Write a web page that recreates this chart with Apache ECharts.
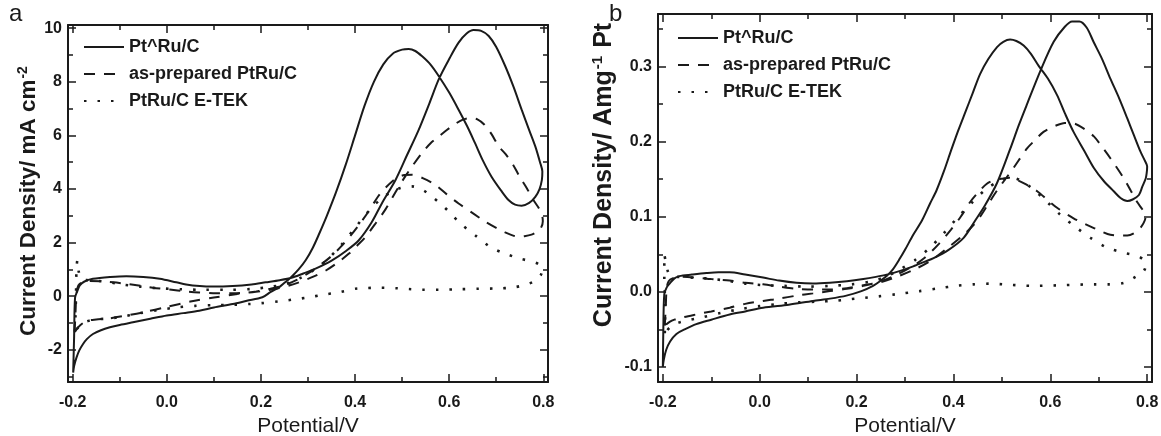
<!DOCTYPE html>
<html><head><meta charset="utf-8">
<script src="https://cdn.jsdelivr.net/npm/echarts@6/dist/echarts.min.js"></script>
<style>html,body{margin:0;padding:0;background:#fff}#c{width:1161px;height:436px}</style>
</head><body><div id="c"></div>
<script>
const seriesNames = ['Pt^Ru/C', 'as-prepared PtRu/C', 'PtRu/C E-TEK'];
const xMajorTicks = [-0.2, 0, 0.2, 0.4, 0.6, 0.8];
const xMinorTicks = [-0.1, 0.1, 0.3, 0.5, 0.7];
const yMajorTicksA = [-2, 0, 2, 4, 6, 8, 10];
const yMinorTicksA = [-3, -1, 1, 3, 5, 7, 9];
const yMajorTicksB = [-0.1, 0, 0.1, 0.2, 0.3];
const yMinorTicksB = [-0.05, 0.05, 0.15, 0.25, 0.35];

// Panel a: current density (mA cm-2) vs potential (V), closed CV loops
const solidA = [[-0.199,-2.85],[-0.197,-1.5],[-0.195,-0.05],[-0.19,0.2],[-0.185,0.4],[-0.175,0.55],[-0.157,0.65],[-0.12,0.72],[-0.086,0.75],[-0.05,0.72],[-0.015,0.65],[0.02,0.52],[0.041,0.44],[0.07,0.38],[0.097,0.36],[0.14,0.38],[0.18,0.44],[0.21,0.52],[0.24,0.6],[0.265,0.69],[0.29,0.85],[0.316,1.03],[0.351,1.34],[0.38,1.68],[0.408,2.09],[0.435,2.75],[0.458,3.5],[0.486,4.34],[0.51,5.25],[0.535,6.2],[0.558,7.2],[0.578,8.1],[0.6,8.85],[0.62,9.46],[0.637,9.8],[0.652,9.93],[0.668,9.9],[0.684,9.71],[0.7,9.3],[0.719,8.59],[0.737,7.8],[0.754,6.96],[0.77,6.2],[0.783,5.59],[0.793,5.0],[0.798,4.65],[0.797,4.34],[0.792,4.0],[0.783,3.71],[0.77,3.48],[0.754,3.38],[0.74,3.42],[0.726,3.59],[0.71,3.95],[0.69,4.46],[0.672,5.05],[0.655,5.71],[0.638,6.35],[0.62,6.96],[0.6,7.6],[0.578,8.21],[0.56,8.65],[0.542,8.96],[0.528,9.15],[0.514,9.22],[0.5,9.2],[0.48,9.05],[0.46,8.65],[0.44,8.0],[0.42,7.1],[0.4,6.0],[0.38,4.9],[0.36,3.9],[0.34,3.0],[0.324,2.34],[0.31,1.8],[0.295,1.34],[0.28,1.0],[0.264,0.71],[0.25,0.5],[0.239,0.34],[0.22,0.15],[0.203,-0.04],[0.17,-0.17],[0.14,-0.29],[0.1,-0.42],[0.069,-0.54],[0.035,-0.63],[0.0,-0.72],[-0.035,-0.84],[-0.072,-0.97],[-0.1,-1.07],[-0.121,-1.16],[-0.14,-1.27],[-0.157,-1.41],[-0.17,-1.6],[-0.178,-1.78],[-0.186,-2.02],[-0.192,-2.29],[-0.197,-2.6],[-0.199,-2.85]];
const dashedA = [[-0.196,-1.35],[-0.194,-0.6],[-0.192,0.1],[-0.188,0.4],[-0.18,0.52],[-0.164,0.57],[-0.14,0.56],[-0.114,0.52],[-0.09,0.47],[-0.06,0.4],[-0.03,0.32],[0.006,0.25],[0.04,0.18],[0.069,0.14],[0.105,0.11],[0.14,0.11],[0.182,0.15],[0.21,0.21],[0.232,0.28],[0.26,0.4],[0.281,0.52],[0.31,0.72],[0.338,0.96],[0.365,1.28],[0.387,1.59],[0.405,1.9],[0.422,2.21],[0.445,2.75],[0.465,3.25],[0.48,3.7],[0.493,4.09],[0.507,4.48],[0.521,4.84],[0.542,5.34],[0.56,5.7],[0.578,5.96],[0.595,6.2],[0.612,6.42],[0.628,6.58],[0.645,6.65],[0.66,6.6],[0.675,6.4],[0.69,6.05],[0.705,5.6],[0.72,5.3],[0.736,4.9],[0.75,4.45],[0.765,4.03],[0.779,3.59],[0.79,3.3],[0.797,3.05],[0.799,2.8],[0.795,2.55],[0.786,2.4],[0.775,2.3],[0.76,2.24],[0.747,2.22],[0.733,2.28],[0.719,2.38],[0.7,2.55],[0.677,2.78],[0.65,3.1],[0.62,3.46],[0.595,3.8],[0.571,4.15],[0.545,4.4],[0.521,4.53],[0.505,4.52],[0.493,4.45],[0.48,4.3],[0.465,4.05],[0.45,3.75],[0.43,3.2],[0.41,2.7],[0.39,2.25],[0.37,1.85],[0.35,1.5],[0.325,1.15],[0.3,0.85],[0.275,0.6],[0.25,0.42],[0.22,0.28],[0.19,0.18],[0.15,0.08],[0.1,-0.05],[0.05,-0.2],[0.0,-0.4],[-0.05,-0.6],[-0.086,-0.72],[-0.12,-0.82],[-0.15,-0.87],[-0.165,-0.9],[-0.178,-1.0],[-0.188,-1.15],[-0.196,-1.35]];
const dottedA = [[-0.195,-1.3],[-0.193,0.0],[-0.192,1.0],[-0.19,1.34],[-0.187,0.9],[-0.182,0.65],[-0.17,0.6],[-0.15,0.58],[-0.12,0.52],[-0.1,0.45],[-0.058,0.36],[-0.02,0.3],[0.03,0.26],[0.08,0.24],[0.13,0.24],[0.18,0.27],[0.22,0.35],[0.25,0.45],[0.28,0.65],[0.31,0.95],[0.34,1.35],[0.37,1.9],[0.4,2.55],[0.43,3.2],[0.46,3.7],[0.49,4.0],[0.52,4.1],[0.545,3.95],[0.564,3.71],[0.585,3.4],[0.6,3.15],[0.624,2.71],[0.655,2.28],[0.687,1.84],[0.719,1.59],[0.751,1.4],[0.775,1.3],[0.79,1.2],[0.797,1.03],[0.795,0.8],[0.785,0.6],[0.768,0.46],[0.737,0.33],[0.7,0.29],[0.662,0.28],[0.62,0.26],[0.578,0.24],[0.542,0.24],[0.514,0.27],[0.486,0.3],[0.45,0.32],[0.42,0.3],[0.401,0.28],[0.366,0.15],[0.33,0.05],[0.302,-0.04],[0.27,-0.12],[0.239,-0.19],[0.2,-0.26],[0.175,-0.29],[0.14,-0.32],[0.1,-0.33],[0.06,-0.36],[0.02,-0.42],[-0.02,-0.52],[-0.06,-0.64],[-0.1,-0.78],[-0.13,-0.84],[-0.155,-0.87],[-0.172,-0.95],[-0.185,-1.1],[-0.195,-1.3]];

// Panel b: mass activity (A mg-1 Pt) vs potential (V)
const solidB = [[-0.2,-0.1],[-0.199,-0.05],[-0.197,-0.003],[-0.192,0.006],[-0.186,0.011],[-0.176,0.018],[-0.166,0.021],[-0.14,0.023],[-0.11,0.025],[-0.085,0.026],[-0.062,0.026],[-0.03,0.023],[0.007,0.019],[0.04,0.015],[0.076,0.012],[0.11,0.011],[0.145,0.012],[0.18,0.014],[0.214,0.017],[0.24,0.02],[0.262,0.023],[0.29,0.028],[0.317,0.034],[0.34,0.04],[0.359,0.045],[0.39,0.056],[0.421,0.072],[0.445,0.095],[0.465,0.115],[0.49,0.145],[0.517,0.19],[0.535,0.222],[0.552,0.25],[0.58,0.295],[0.607,0.333],[0.63,0.353],[0.645,0.36],[0.66,0.36],[0.675,0.352],[0.69,0.332],[0.707,0.31],[0.724,0.284],[0.742,0.258],[0.759,0.231],[0.773,0.208],[0.786,0.187],[0.795,0.175],[0.8,0.167],[0.799,0.158],[0.797,0.151],[0.79,0.14],[0.783,0.129],[0.77,0.123],[0.759,0.121],[0.745,0.125],[0.731,0.134],[0.71,0.148],[0.69,0.165],[0.67,0.188],[0.648,0.213],[0.63,0.238],[0.614,0.262],[0.595,0.284],[0.576,0.301],[0.56,0.317],[0.545,0.328],[0.53,0.334],[0.517,0.336],[0.503,0.333],[0.49,0.326],[0.472,0.31],[0.455,0.29],[0.44,0.265],[0.425,0.24],[0.41,0.215],[0.395,0.188],[0.38,0.16],[0.365,0.135],[0.352,0.118],[0.335,0.095],[0.317,0.076],[0.3,0.056],[0.29,0.045],[0.275,0.03],[0.262,0.021],[0.25,0.015],[0.234,0.008],[0.21,0.001],[0.179,-0.005],[0.145,-0.009],[0.11,-0.012],[0.06,-0.017],[0.007,-0.021],[-0.03,-0.026],[-0.062,-0.03],[-0.1,-0.037],[-0.131,-0.043],[-0.155,-0.05],[-0.172,-0.056],[-0.185,-0.066],[-0.193,-0.077],[-0.198,-0.09],[-0.2,-0.1]];
const dashedB = [[-0.196,-0.045],[-0.194,-0.02],[-0.192,0.005],[-0.188,0.014],[-0.18,0.018],[-0.16,0.02],[-0.131,0.019],[-0.1,0.017],[-0.062,0.015],[-0.03,0.012],[0.007,0.01],[0.04,0.007],[0.076,0.004],[0.11,0.003],[0.145,0.003],[0.18,0.005],[0.214,0.009],[0.25,0.013],[0.283,0.02],[0.32,0.03],[0.352,0.041],[0.385,0.057],[0.421,0.076],[0.44,0.088],[0.455,0.1],[0.47,0.115],[0.49,0.135],[0.507,0.15],[0.524,0.165],[0.552,0.191],[0.57,0.203],[0.586,0.213],[0.61,0.221],[0.63,0.225],[0.65,0.224],[0.67,0.217],[0.69,0.207],[0.707,0.193],[0.724,0.178],[0.752,0.151],[0.766,0.135],[0.779,0.12],[0.79,0.11],[0.797,0.103],[0.795,0.095],[0.788,0.087],[0.775,0.079],[0.759,0.075],[0.742,0.075],[0.724,0.076],[0.707,0.08],[0.69,0.085],[0.67,0.091],[0.648,0.098],[0.614,0.112],[0.595,0.122],[0.573,0.134],[0.55,0.143],[0.531,0.149],[0.515,0.152],[0.503,0.151],[0.485,0.149],[0.469,0.144],[0.452,0.133],[0.435,0.12],[0.415,0.1],[0.395,0.083],[0.37,0.064],[0.34,0.045],[0.31,0.032],[0.28,0.022],[0.25,0.014],[0.214,0.008],[0.18,0.004],[0.145,0.001],[0.11,-0.002],[0.076,-0.005],[0.04,-0.009],[0.007,-0.012],[-0.03,-0.016],[-0.062,-0.021],[-0.1,-0.026],[-0.131,-0.03],[-0.16,-0.034],[-0.176,-0.037],[-0.186,-0.04],[-0.196,-0.045]];
const dottedB = [[-0.196,-0.055],[-0.195,-0.02],[-0.197,0.02],[-0.197,0.05],[-0.194,0.04],[-0.19,0.028],[-0.185,0.022],[-0.17,0.02],[-0.14,0.019],[-0.11,0.018],[-0.07,0.015],[-0.03,0.011],[0.007,0.009],[0.05,0.008],[0.1,0.007],[0.145,0.008],[0.19,0.01],[0.23,0.014],[0.26,0.02],[0.29,0.03],[0.32,0.042],[0.35,0.058],[0.38,0.078],[0.41,0.1],[0.44,0.12],[0.47,0.138],[0.5,0.149],[0.52,0.152],[0.54,0.148],[0.562,0.138],[0.593,0.12],[0.62,0.103],[0.655,0.085],[0.683,0.072],[0.717,0.059],[0.752,0.052],[0.779,0.048],[0.792,0.043],[0.797,0.037],[0.795,0.03],[0.788,0.024],[0.779,0.021],[0.752,0.012],[0.72,0.01],[0.69,0.01],[0.628,0.009],[0.566,0.008],[0.503,0.01],[0.476,0.011],[0.441,0.01],[0.405,0.008],[0.372,0.005],[0.33,0.001],[0.283,-0.003],[0.245,-0.006],[0.214,-0.008],[0.183,-0.01],[0.152,-0.012],[0.12,-0.013],[0.08,-0.014],[0.04,-0.016],[0.0,-0.019],[-0.04,-0.023],[-0.08,-0.028],[-0.12,-0.034],[-0.15,-0.038],[-0.172,-0.042],[-0.185,-0.047],[-0.196,-0.055]];

const INK = '#1a1a1a';
const FONT = 'Liberation Sans, Arial, sans-serif';
const X_RANGE = [-0.21, 0.81];
const Y_RANGE_A = [-3.2, 10.12];
const Y_RANGE_B = [-0.12, 0.37];

function xAxis(grid, pos, ticks, len, withLabel, withLine, extra) {
  return Object.assign({
    type: 'value', gridIndex: grid, position: pos, min: X_RANGE[0], max: X_RANGE[1],
    splitLine: { show: false },
    axisLine: { show: withLine, onZero: false, lineStyle: { color: INK, width: 2 } },
    axisTick: { show: true, inside: true, length: len, customValues: ticks, lineStyle: { color: INK, width: 1.5 } },
    axisLabel: withLabel ? { show: true, customValues: ticks, margin: 13, color: INK, fontSize: 16, fontWeight: 'bold', fontFamily: FONT,
      formatter: v => v.toFixed(1) } : { show: false }
  }, extra || {});
}
function yAxis(grid, pos, range, ticks, len, withLabel, withLine, fmt, extra) {
  return Object.assign({
    type: 'value', gridIndex: grid, position: pos, min: range[0], max: range[1],
    splitLine: { show: false },
    axisLine: { show: withLine, onZero: false, lineStyle: { color: INK, width: 2 } },
    axisTick: { show: true, inside: true, length: len, customValues: ticks, lineStyle: { color: INK, width: 1.5 } },
    axisLabel: withLabel ? { show: true, customValues: ticks, margin: 6, color: INK, fontSize: 16, fontWeight: 'bold', fontFamily: FONT,
      formatter: fmt } : { show: false }
  }, extra || {});
}
const xName = {
  name: 'Potential/V', nameLocation: 'middle', nameGap: 32,
  nameTextStyle: { fontSize: 21, color: INK, fontFamily: FONT }
};
function yName(main, sup, tail, size, gap, shift) {
  return {
    name: '{m|' + main + '}{s|' + sup + '}' + (tail ? '{m|' + tail + '}' : ''),
    nameLocation: 'middle', nameGap: gap,
    nameTextStyle: { padding: [0, 0, 0, shift], rich: {
      m: { fontSize: size, fontWeight: 'bold', color: INK, fontFamily: FONT },
      s: { fontSize: Math.round(size * 0.6), fontWeight: 'bold', color: INK, fontFamily: FONT, padding: [0, 1, Math.round(size * 0.55), 1] }
    } }
  };
}

const xAxes = [
  xAxis(0, 'bottom', xMajorTicks, 8, true, true, xName),
  xAxis(0, 'bottom', xMinorTicks, 5, false, false),
  xAxis(0, 'top', xMajorTicks, 8, false, true),
  xAxis(0, 'top', xMinorTicks, 5, false, false),
  xAxis(1, 'bottom', xMajorTicks, 8, true, true, xName),
  xAxis(1, 'bottom', xMinorTicks, 5, false, false),
  xAxis(1, 'top', xMajorTicks, 8, false, true),
  xAxis(1, 'top', xMinorTicks, 5, false, false)
];
const yAxes = [
  yAxis(0, 'left', Y_RANGE_A, yMajorTicksA, 8, true, true, v => String(Math.round(v)), yName('Current Density/ mA cm', '-2', '', 22.5, 25, 6)),
  yAxis(0, 'left', Y_RANGE_A, yMinorTicksA, 5, false, false),
  yAxis(0, 'right', Y_RANGE_A, yMajorTicksA, 8, false, true),
  yAxis(0, 'right', Y_RANGE_A, yMinorTicksA, 5, false, false),
  yAxis(1, 'left', Y_RANGE_B, yMajorTicksB, 8, true, true, v => v.toFixed(1), yName('Current Density/ Amg', '-1', ' Pt', 25, 39, 46)),
  yAxis(1, 'left', Y_RANGE_B, yMinorTicksB, 5, false, false),
  yAxis(1, 'right', Y_RANGE_B, yMajorTicksB, 8, false, true),
  yAxis(1, 'right', Y_RANGE_B, yMinorTicksB, 5, false, false)
];

const styles = [
  { type: 'solid', width: 2 },
  { type: [11, 9], width: 2 },
  { type: [2.5, 11], width: 2.6 }
];
function mk(name, data, xi, yi, st) {
  return { name, type: 'line', xAxisIndex: xi, yAxisIndex: yi, data, symbol: 'none', showSymbol: false, smooth: 0.3,
    lineStyle: Object.assign({ color: INK }, st), itemStyle: { color: INK }, silent: true, animation: false, z: 3 };
}
const series = [
  mk(seriesNames[0], solidA, 0, 0, styles[0]),
  mk(seriesNames[1], dashedA, 0, 0, styles[1]),
  mk(seriesNames[2], dottedA, 0, 0, styles[2]),
  mk(seriesNames[0], solidB, 4, 4, styles[0]),
  mk(seriesNames[1], dashedB, 4, 4, styles[1]),
  mk(seriesNames[2], dottedB, 4, 4, styles[2])
];
const legendBase = { orient: 'vertical', itemWidth: 40, itemHeight: 14, itemGap: 9, selectedMode: false, padding: 0,
  itemStyle: { opacity: 0, borderWidth: 0 },
  data: seriesNames, textStyle: { fontSize: 18, fontWeight: 'bold', color: INK, fontFamily: FONT } };

const chart = echarts.init(document.getElementById('c'), null, { renderer: 'canvas' });
chart.setOption({
  animation: false,
  backgroundColor: '#fff',
  title: [
    { text: 'a', left: 9, top: 2, padding: 0, textStyle: { fontSize: 24, fontWeight: 'normal', color: INK, fontFamily: FONT } },
    { text: 'b', left: 609, top: 2, padding: 0, textStyle: { fontSize: 24, fontWeight: 'normal', color: INK, fontFamily: FONT } }
  ],
  legend: [
    Object.assign({ left: 83, top: 38 }, legendBase),
    Object.assign({ left: 677, top: 29 }, legendBase)
  ],
  grid: [
    { left: 68, top: 25, width: 480, height: 357, containLabel: false, outerBoundsMode: 'none' },
    { left: 658, top: 14, width: 494, height: 368, containLabel: false, outerBoundsMode: 'none' }
  ],
  xAxis: xAxes,
  yAxis: yAxes,
  series
});
</script></body></html>
